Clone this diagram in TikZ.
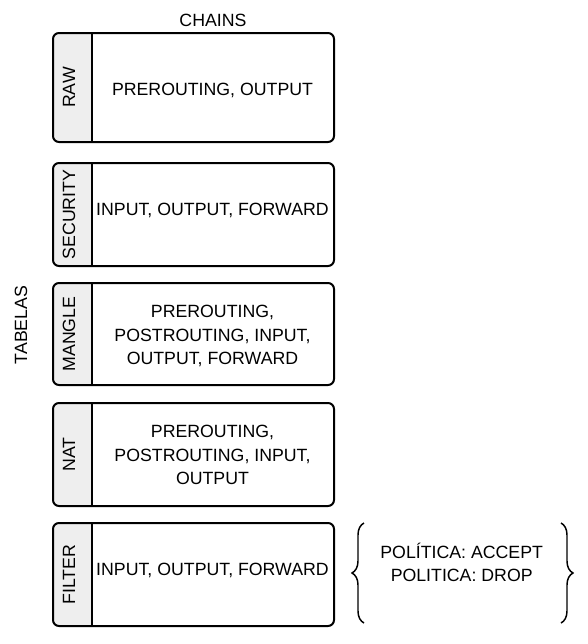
\documentclass[tikz,border=0pt]{standalone}
\usepackage{fontspec}
\setmainfont{Liberation Sans}
\usetikzlibrary{decorations.pathreplacing}
\definecolor{stripgray}{HTML}{EEEEEE}
\tikzset{
  txt/.style={font=\fontsize{13.3}{17.4}\selectfont, align=center, inner sep=0pt},
  lbl/.style={txt, rotate=90},
  boxline/.style={line width=1.5pt, rounded corners=4.5pt},
  bracestyle/.style={line width=1.1pt, decorate, decoration={brace, amplitude=9pt}},
}
% name, top, bottom, label, content, content y
\newcommand\tabbox[6]{%
  \begin{scope}
    \clip[rounded corners=4.5pt] (53,#2) rectangle (334,#3);
    \fill[stripgray] (53,#2) rectangle (92,#3);
  \end{scope}
  \draw[boxline] (53,#2) rectangle (334,#3);
  \draw[line width=1.5pt] (92,#2) -- (92,#3);
  \node[lbl] (#1-label) at (69,{(#2+#3)/2}) {#4};
  \node[txt] (#1-chains) at (212.5,#6) {#5};
}
\begin{document}
\begin{tikzpicture}[x=0.75pt,y=-0.75pt]
  \useasboundingbox (0,0) rectangle (588,644);
  \node[txt] (chains) at (213,20.5) {CHAINS};
  \node[lbl] (tabelas) at (21,325) {TABELAS};
  \tabbox{raw}{33}{142}{RAW}{PREROUTING, OUTPUT}{90}
  \tabbox{security}{163}{266}{SECURITY}{INPUT, OUTPUT, FORWARD}{210}
  \tabbox{mangle}{283}{385}{MANGLE}{PREROUTING,\\POSTROUTING, INPUT,\\OUTPUT, FORWARD}{336}
  \tabbox{nat}{403}{506}{NAT}{PREROUTING,\\POSTROUTING, INPUT,\\OUTPUT}{455}
  \tabbox{filter}{523}{626}{FILTER}{INPUT, OUTPUT, FORWARD}{570}
  \coordinate (lbtop) at (364,523);
  \coordinate (lbbot) at (364,623);
  \coordinate (rbtop) at (561,523);
  \coordinate (rbbot) at (561,623);
  \draw[bracestyle] (lbbot) -- (lbtop);
  \draw[bracestyle] (rbtop) -- (rbbot);
  \node[txt] (politica) at (461.7,562.5) {POLÍTICA: ACCEPT\\POLITICA: DROP};
\end{tikzpicture}
\end{document}
